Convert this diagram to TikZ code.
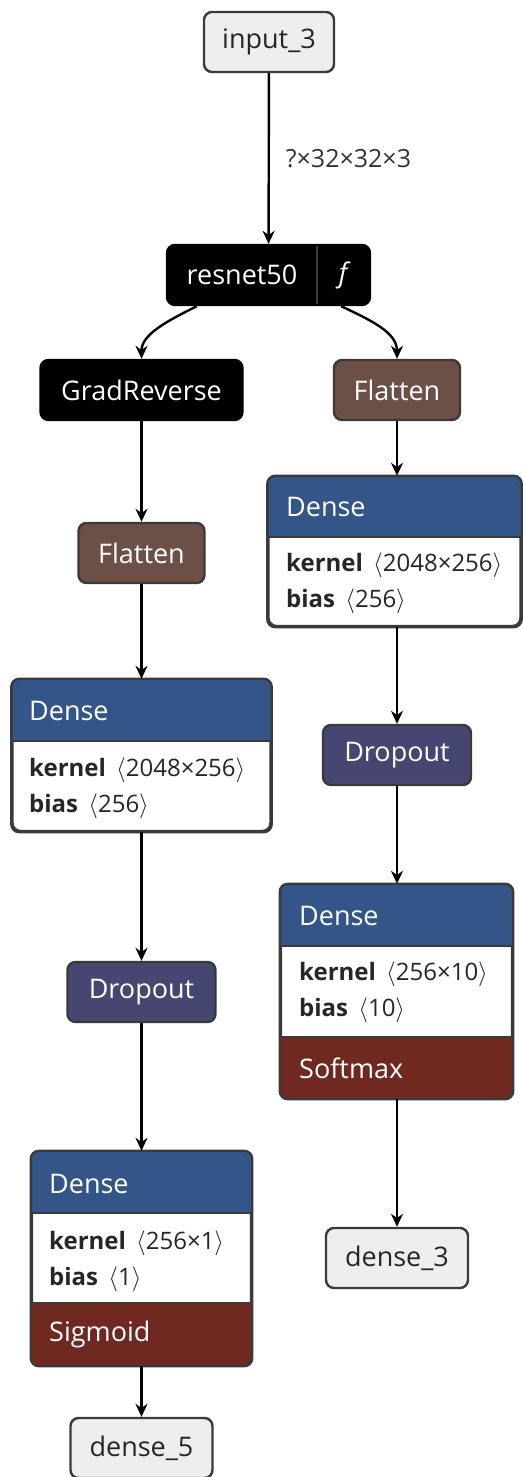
\documentclass[tikz,border=0pt]{standalone}
\usepackage{fontspec}
\setmainfont{Open Sans}
\usetikzlibrary{arrows.meta}
\definecolor{edgegray}{HTML}{3A3A3A}
\definecolor{iogray}{HTML}{EEEEEE}
\definecolor{layerblue}{HTML}{335588}
\definecolor{shapebrown}{HTML}{6C4F47}
\definecolor{dropviolet}{HTML}{454770}
\definecolor{actred}{HTML}{702921}
\begin{document}
\begin{tikzpicture}[x=1pt, y=-1pt, ->, >={Stealth[length=13pt, width=12pt]}, line width=2.4pt,
    box/.style={draw=edgegray, rounded corners=8pt, minimum height=60pt, inner sep=0pt,
      font=\fontsize{27}{31}\selectfont},
    io/.style={box, fill=iogray, text=black!85},
    op/.style={box, text=white},
    block/.style={draw=edgegray, rounded corners=8pt, inner sep=0pt, fill=white},
    hdr/.style={anchor=west, inner sep=0pt, text=white, font=\fontsize{27}{31}\selectfont},
    attr/.style={anchor=west, inner sep=0pt, text=black!85, font=\fontsize{24}{28}\selectfont},
    shp/.style={anchor=west, inner sep=0pt, text=black!80, font=\fontsize{25}{29}\selectfont}]
    \useasboundingbox (0,0) rectangle (522,1477);

    % Input and backbone
    \node[io, minimum width=130pt] (input) at (269,42) {input\_3};
    \node[op, fill=black, draw=black, minimum width=203pt] (resnet) at (268.5,275) {};
    \draw[-, edgegray, line width=1.4pt] (317,246) -- (317,304);
    \node[text=white, font=\fontsize{27}{31}\selectfont] (resname) at (242,275) {resnet50};
    \node[text=white, font=\fontsize{27}{31}\selectfont\itshape] (resf) at (343,275) {f};

    % Left branch
    \node[op, fill=black, draw=black, minimum width=202pt] (grad) at (141.5,390) {GradReverse};
    \node[op, fill=shapebrown, minimum width=126pt] (lflat) at (141.5,553) {Flatten};

    \node[block, minimum width=258pt, minimum height=151pt] (ldense1) at (141.5,755.5) {};
    \begin{scope}
        \clip[rounded corners=8pt] (ldense1.north west) rectangle (ldense1.south east);
        \fill[layerblue] (12.5,680) rectangle (270.5,741);
    \end{scope}
    \draw[-, edgegray] (12.5,741) -- (270.5,741);
    \draw[-, edgegray, rounded corners=8pt] (ldense1.north west) rectangle (ldense1.south east);
    \node[hdr] (ldense1h) at (28,710.5) {Dense};
    \node[attr] (ldense1k) at (28,770) {\textbf{kernel}\, $\langle$2048×256$\rangle$};
    \node[attr] (ldense1b) at (28,806) {\textbf{bias}\, $\langle$256$\rangle$};

    \node[op, fill=dropviolet, minimum width=148pt] (ldrop) at (141.5,992) {Dropout};

    \node[block, minimum width=219pt, minimum height=213pt] (ldense2) at (141.5,1258.5) {};
    \begin{scope}
        \clip[rounded corners=8pt] (ldense2.north west) rectangle (ldense2.south east);
        \fill[layerblue] (32,1152) rectangle (251,1213);
        \fill[actred] (32,1303) rectangle (251,1365);
    \end{scope}
    \draw[-, edgegray] (32,1213) -- (251,1213);
    \draw[-, edgegray] (32,1303) -- (251,1303);
    \draw[-, edgegray, rounded corners=8pt] (ldense2.north west) rectangle (ldense2.south east);
    \node[hdr] (ldense2h) at (48,1183.5) {Dense};
    \node[attr] (ldense2k) at (48,1243) {\textbf{kernel}\, $\langle$256×1$\rangle$};
    \node[attr] (ldense2b) at (48,1279) {\textbf{bias}\, $\langle$1$\rangle$};
    \node[hdr] (ldense2a) at (48,1334) {Sigmoid};

    \node[io, minimum width=142pt] (lout) at (141.5,1448) {dense\_5};

    % Right branch
    \node[op, fill=shapebrown, minimum width=126pt] (rflat) at (397,390) {Flatten};

    \node[block, minimum width=252pt, minimum height=149pt] (rdense1) at (394.5,551.5) {};
    \begin{scope}
        \clip[rounded corners=8pt] (rdense1.north west) rectangle (rdense1.south east);
        \fill[layerblue] (268.5,477) rectangle (520.5,537);
    \end{scope}
    \draw[-, edgegray] (268.5,537) -- (520.5,537);
    \draw[-, edgegray, rounded corners=8pt] (rdense1.north west) rectangle (rdense1.south east);
    \node[hdr] (rdense1h) at (285,507) {Dense};
    \node[attr] (rdense1k) at (285,565) {\textbf{kernel}\, $\langle$2048×256$\rangle$};
    \node[attr] (rdense1b) at (285,601) {\textbf{bias}\, $\langle$256$\rangle$};

    \node[op, fill=dropviolet, minimum width=148pt] (rdrop) at (397,755) {Dropout};

    \node[block, minimum width=231pt, minimum height=213pt] (rdense2) at (396.5,991.5) {};
    \begin{scope}
        \clip[rounded corners=8pt] (rdense2.north west) rectangle (rdense2.south east);
        \fill[layerblue] (281,885) rectangle (512,946);
        \fill[actred] (281,1037) rectangle (512,1098);
    \end{scope}
    \draw[-, edgegray] (281,946) -- (512,946);
    \draw[-, edgegray] (281,1037) -- (512,1037);
    \draw[-, edgegray, rounded corners=8pt] (rdense2.north west) rectangle (rdense2.south east);
    \node[hdr] (rdense2h) at (298,916) {Dense};
    \node[attr] (rdense2k) at (298,974) {\textbf{kernel}\, $\langle$256×10$\rangle$};
    \node[attr] (rdense2b) at (298,1010) {\textbf{bias}\, $\langle$10$\rangle$};
    \node[hdr] (rdense2a) at (298,1068) {Softmax};

    \node[io, minimum width=142pt] (rout) at (397,1258) {dense\_3};

    % Connections
    \draw (input) -- node[shp, right=16pt] (shape) {?×32×32×3} (resnet);
    \draw ([xshift=31pt]resnet.south west) .. controls (165,322) and (141.5,335) .. (grad.north);
    \draw ([xshift=-30pt]resnet.south east) .. controls (370,320) and (397,332) .. (rflat.north);
    \draw (grad) -- (lflat);
    \draw (lflat) -- (ldense1);
    \draw (ldense1) -- (ldrop);
    \draw (ldrop) -- (ldense2);
    \draw (ldense2) -- (lout);
    \draw (rflat.south) -- (rflat.south |- rdense1.north);
    \draw (rdrop.north |- rdense1.south) -- (rdrop.north);
    \draw (rdrop) -- (rdrop.south |- rdense2.north);
    \draw (rout.north |- rdense2.south) -- (rout.north);

    \end{tikzpicture}
\end{document}
